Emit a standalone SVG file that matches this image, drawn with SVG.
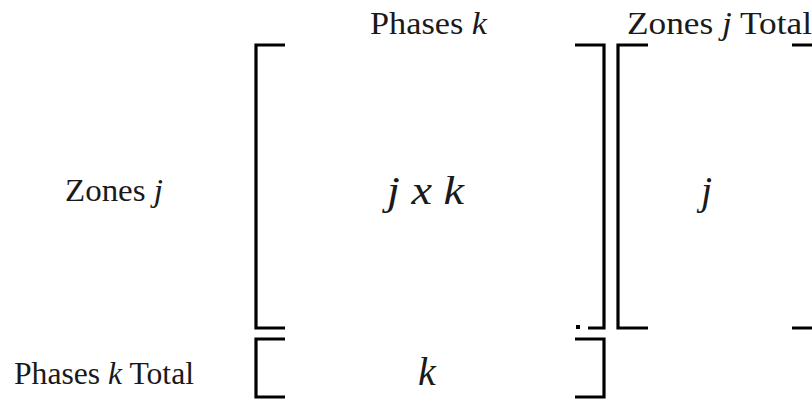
<svg xmlns="http://www.w3.org/2000/svg" width="812" height="402" viewBox="0 0 812 402">
  <style>
    .lbl { font-family: "Liberation Serif", "Times New Roman", serif; font-size: 32px; fill: #1a1a1a; }
    .it { font-style: italic; }
    .math { font-family: "Liberation Serif", "Times New Roman", serif; font-size: 40px; font-style: italic; fill: #1a1a1a; }
    .br { fill: none; stroke: #000; stroke-width: 3.2; stroke-linecap: butt; stroke-linejoin: miter; }
  </style>
  <rect width="812" height="402" fill="#fff"/>

  <g id="label-phases">
    <text class="lbl" x="370" y="34" textLength="117" lengthAdjust="spacingAndGlyphs">Phases <tspan class="it">k</tspan></text>
  </g>
  <g id="label-zones-total">
    <text class="lbl" x="627" y="34" textLength="185" lengthAdjust="spacingAndGlyphs">Zones <tspan class="it">j</tspan> Total</text>
  </g>
  <g id="label-zones">
    <text class="lbl" x="65" y="201" textLength="98" lengthAdjust="spacingAndGlyphs">Zones <tspan class="it">j</tspan></text>
  </g>
  <g id="label-phases-total">
    <text class="lbl" x="14" y="384" textLength="180" lengthAdjust="spacingAndGlyphs">Phases <tspan class="it">k</tspan> Total</text>
  </g>

  <g id="matrix-jk">
    <path class="br" d="M285,45 H256 V328 H285"/>
    <path class="br" d="M575,45 H604 V328 H588"/>
    <rect x="576" y="325" width="4" height="4" fill="#000"/>
    <text class="math" x="387" y="204" textLength="77" lengthAdjust="spacingAndGlyphs">j x k</text>
  </g>

  <g id="matrix-j">
    <path class="br" d="M648,45 H618 V328 H648"/>
    <path class="br" d="M792,45 H830 V328 H792"/>
    <text class="math" x="701" y="204">j</text>
  </g>

  <g id="matrix-k">
    <path class="br" d="M285,339 H256 V397 H285"/>
    <path class="br" d="M575,339 H604 V397 H575"/>
    <text class="math" x="418" y="385">k</text>
  </g>
</svg>
